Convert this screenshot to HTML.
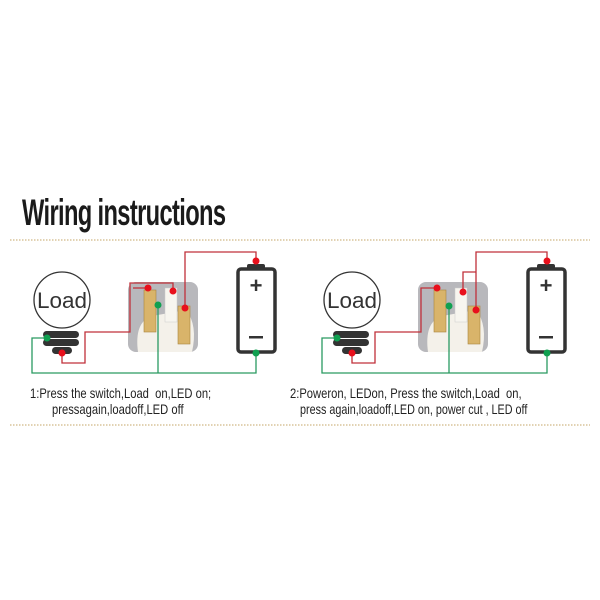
<!DOCTYPE html>
<html><head><style>
body{margin:0;background:#fff;width:600px;height:600px;overflow:hidden;position:relative;font-family:"Liberation Sans",sans-serif}
.t{position:absolute;white-space:nowrap;color:#222;transform-origin:left top}
</style></head><body>
<div class="t" style="left:22px;top:192px;font-size:37px;font-weight:bold;letter-spacing:-1px;color:#1a1a1a;transform:scaleX(0.64)">Wiring instructions</div>
<div class="t" style="left:30px;top:385px;font-size:14px;transform:scaleX(0.8)">1:Press the switch,Load&nbsp; on,LED on;</div>
<div class="t" style="left:52px;top:401px;font-size:14px;transform:scaleX(0.8)">pressagain,loadoff,LED off</div>
<div class="t" style="left:290px;top:385px;font-size:14px;transform:scaleX(0.8)">2:Poweron, LEDon, Press the switch,Load&nbsp; on,</div>
<div class="t" style="left:300px;top:401px;font-size:14px;transform:scaleX(0.77)">press again,loadoff,LED on, power cut , LED off</div>
<svg width="600" height="600" style="position:absolute;left:0;top:0">
<line x1="10" y1="240" x2="590" y2="240" stroke="#d8c49a" stroke-width="1.5" stroke-dasharray="1.5 1.5"/>
<line x1="10" y1="425" x2="590" y2="425" stroke="#d8c49a" stroke-width="1.5" stroke-dasharray="1.5 1.5"/>
<defs>
<g id="d">
<circle cx="62" cy="300" r="28" fill="#fff" stroke="#333" stroke-width="1.3"/>
<rect x="43" y="331" width="36" height="7" rx="3.5" fill="#333"/>
<rect x="43" y="339" width="36" height="7" rx="3.5" fill="#333"/>
<rect x="52" y="347" width="20" height="7" rx="3.5" fill="#333"/>
<rect x="128" y="282" width="70" height="70" rx="8" fill="#b8b8bc"/>
<path d="M138 352 Q134 322 152 316 L186 310 Q198 325 192 352Z" fill="#f4f1ea"/>
<rect x="165" y="288" width="12" height="34" fill="#f7f5ef" stroke="#ccc" stroke-width="0.5"/>
<rect x="144" y="290" width="12" height="42" fill="#d9b46a" stroke="#a8843e" stroke-width="0.6"/>
<rect x="178" y="306" width="12" height="38" fill="#d9b46a" stroke="#a8843e" stroke-width="0.6"/>
<rect x="247" y="264" width="18" height="6" rx="2" fill="#333"/>
<rect x="238" y="269" width="37" height="83" rx="3" fill="#fff" stroke="#333" stroke-width="3.5"/>
<text x="256" y="293" font-family="Liberation Sans" font-size="22" font-weight="bold" text-anchor="middle" fill="#333">+</text>
<rect x="249" y="336" width="14" height="2.5" fill="#333"/>
<text x="62" y="308" font-family="Liberation Sans" font-size="22" text-anchor="middle" fill="#333" textLength="50" lengthAdjust="spacingAndGlyphs">Load</text>
</g>
</defs>
<use href="#d"/>
<use href="#d" transform="translate(290,0)"/>
<g fill="none" stroke-width="1.3">
<polyline stroke="#c0303a" points="256,261 256,252 185,252 185,308"/>
<polyline stroke="#c0303a" points="62,353 62,363 85,363 85,332 130,332 130,283 173,283 173,290"/>
<polyline stroke="#c0303a" points="133,288 148,288"/>
<polyline stroke="#2a9a62" points="47,338 32,338 32,373 256,373 256,353"/>
<polyline stroke="#2a9a62" points="158,305 158,373"/>
<polyline stroke="#c0303a" points="547,261 547,252 476,252 476,310"/>
<polyline stroke="#c0303a" points="463,292 463,272 476,272"/>
<polyline stroke="#c0303a" points="352,353 352,363 375,363 375,332 421,332 421,288 437,288"/>
<polyline stroke="#2a9a62" points="337,338 322,338 322,373 547,373 547,353"/>
<polyline stroke="#2a9a62" points="449,306 449,373"/>
</g>
<g fill="#e8101c">
<circle cx="256" cy="261" r="3.5"/><circle cx="185" cy="308" r="3.5"/><circle cx="173" cy="291" r="3.5"/><circle cx="148" cy="288" r="3.5"/><circle cx="62" cy="353" r="3.5"/>
<circle cx="547" cy="261" r="3.5"/><circle cx="476" cy="310" r="3.5"/><circle cx="463" cy="292" r="3.5"/><circle cx="437" cy="288" r="3.5"/><circle cx="352" cy="353" r="3.5"/>
</g>
<g fill="#10a050">
<circle cx="47" cy="338" r="3.5"/><circle cx="158" cy="305" r="3.5"/><circle cx="256" cy="353" r="3.5"/>
<circle cx="337" cy="338" r="3.5"/><circle cx="449" cy="306" r="3.5"/><circle cx="547" cy="353" r="3.5"/>
</g>
</svg>
</body></html>
